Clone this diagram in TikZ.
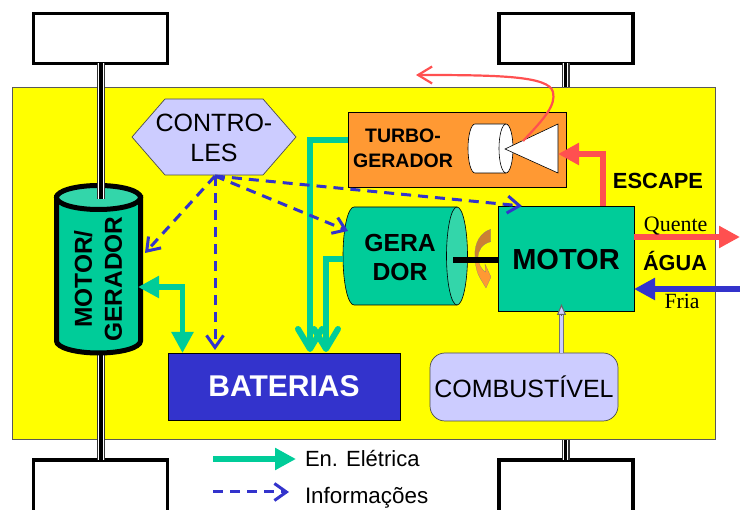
\documentclass[tikz,border=0pt]{standalone}
\usepackage{fontspec}
\setmainfont{Liberation Sans}
\newfontfamily\serifname{Liberation Serif}
\usetikzlibrary{arrows.meta}
\definecolor{amarelo}{HTML}{FFFF00}
\definecolor{verde}{HTML}{00CC99}
\definecolor{verdeclaro}{HTML}{33D6AA}
\definecolor{azul}{HTML}{3333CC}
\definecolor{lilas}{HTML}{CCCCFF}
\definecolor{laranja}{HTML}{FF9933}
\definecolor{laranjaesc}{HTML}{CC8033}
\definecolor{vermelho}{HTML}{FF5050}
\tikzstyle{wheel} = [draw, line width=3.5pt, fill=white, minimum width=134pt, minimum height=50pt]
\tikzstyle{box} = [draw, line width=0.7pt, minimum width=136pt, minimum height=105pt, align=center]
\tikzstyle{eixoA} = [line width=8pt, black!80]
\tikzstyle{eixoB} = [line width=5.8pt, white]
\tikzstyle{eixoC} = [line width=3.2pt, black]
\tikzstyle{energia} = [draw=verde, line width=6pt, -{Straight Barb[length=20pt,width=24pt,round]}, line join=miter]
\tikzstyle{energiafill} = [draw=verde, line width=5.5pt, {Triangle[length=21pt,width=21pt,fill=verde]}-{Triangle[length=21pt,width=21pt,fill=verde]}]
\tikzstyle{info} = [draw=azul, line width=3pt, dash pattern=on 10pt off 7pt, -{Straight Barb[length=12pt,width=17pt]}]
\tikzstyle{quente} = [draw=vermelho, line width=5.5pt, -{Triangle[length=21pt,width=21pt]}]
\tikzstyle{fria} = [draw=azul, line width=6pt, -{Triangle[length=21pt,width=21pt]}]

\begin{document}
\begin{tikzpicture}[
    x=1pt, y=-1pt,
    every node/.style={outer sep=0pt, inner sep=0pt}
]
    \useasboundingbox (0,0) rectangle (740,510);
    \clip (0,0) rectangle (740,510);

    \node[wheel] (rodaA) at (100.5,38.5) {};
    \node[wheel] (rodaB) at (566,38.5) {};
    \node[wheel, minimum height=70pt] (rodaC) at (100.5,495) {};
    \node[wheel, minimum height=70pt] (rodaD) at (566,495) {};
    \coordinate (eixoDir) at (565.5,263);
    \foreach \s in {eixoA, eixoB, eixoC}
        \draw[\s] (rodaB.south -| eixoDir) -- (rodaD.north -| eixoDir);

    \node[draw=black!65, line width=0.7pt, fill=amarelo, minimum width=703pt, minimum height=352pt] (chassi) at (363.5,263) {};

    \coordinate (eixoTopo) at (101,199);
    \coordinate (eixoBase) at (101,350);
    \foreach \s in {eixoA, eixoB, eixoC}
        \draw[\s] (rodaC.north -| eixoBase) -- (eixoBase);

    % motor/gerador
    \draw[line width=5pt, fill=verde] (56.5,197.5) -- (56.5,341) arc[start angle=180, end angle=0, x radius=42, y radius=12] -- (140.5,197.5) -- cycle;
    \draw[line width=5pt, fill=verdeclaro] (98.5,197.5) ellipse[x radius=42, y radius=12];
    \foreach \s in {eixoA, eixoB, eixoC}
        \draw[\s] (rodaA.south -| eixoTopo) -- (eixoTopo);
    \node[rotate=90, align=center, font=\fontsize{24.5}{30}\selectfont\bfseries] (motorgerador) at (98,279) {MOTOR/\\GERADOR};

    \draw[draw=black!70, line width=0.7pt, fill=lilas] (132,137) -- (165,99) -- (263,99) -- (296,137) -- (263,175) -- (165,175) -- cycle;
    \node[align=center, minimum width=164pt, minimum height=76pt, font=\fontsize{25}{30}\selectfont] (controles) at (214,138) {CONTRO-\\LES};

    \node[box, fill=laranja, minimum width=218pt, minimum height=75pt] (turbo) at (457,149.5) {};
    \node[align=center, font=\fontsize{19.5}{25}\selectfont\bfseries] (turbotexto) at (403,148.5) {TURBO-\\GERADOR};
    \draw[line width=0.6pt, fill=white] (475,124) -- (506,124) arc[start angle=-90, end angle=90, x radius=7, y radius=24.5] -- (475,173) arc[start angle=90, end angle=270, x radius=7, y radius=24.5] -- cycle;
    \draw[line width=0.6pt] (506,124) arc[start angle=-90, end angle=-270, x radius=7, y radius=24.5];
    \draw[line width=0.6pt, fill=white] (505,149) -- (558,124) -- (558,173) -- cycle;
    \coordinate (saida) at (416,75);
    \coordinate (turbina) at (523,141);
    \draw[vermelho, line width=2.2pt, -{Straight Barb[length=14pt,width=17pt]}] (turbina) .. controls (545,118) and (556,105) .. (553,92) .. controls (549,76) and (500,75) .. (saida);

    \node[box, fill=verde, text height=23pt, font=\fontsize{29}{32}\selectfont\bfseries] (motor) at (566,258.5) {MOTOR};

    % gerador
    \draw[line width=0.6pt, fill=verde] (354,207) -- (457,207) -- (457,305) -- (354,305) arc[start angle=90, end angle=270, x radius=11, y radius=49] -- cycle;
    \draw[line width=0.6pt, fill=verdeclaro] (457,256) ellipse[x radius=10.5, y radius=49];
    \node[align=center, font=\fontsize{24.7}{29}\selectfont\bfseries] (gerador) at (400,257.5) {GERA\\DOR};

    % seta de rotacao
    \fill[laranjaesc, draw=black!50, line width=0.2pt] (490.7,229.3) .. controls (481,232) and (474,243) .. (475,256) -- (478,258) .. controls (478,250) and (482,244) .. (490.7,241.7) -- cycle;
    \fill[laranja, draw=black!50, line width=0.2pt] (475,256) .. controls (475,265) and (477,273) .. (480,278) -- (486,288) -- (491,277) -- (485,264) -- (485.5,272) .. controls (482,270) and (478,264) .. (478,258) -- cycle;
    \draw[line width=5.5pt] (453,260) -- (motor.west |- 453,260);

    \node[box, fill=azul, text=white, minimum width=232pt, minimum height=67pt, font=\fontsize{30}{32}\selectfont\bfseries] (baterias) at (284,386.5) {BATERIAS};
    \node[box, draw=black!70, fill=lilas, rounded corners=15pt, minimum width=188pt, minimum height=68pt, font=\fontsize{25}{30}\selectfont] (combustivel) at (524,387) {COMBUST\'IVEL};

    \coordinate (fuel) at (561.5,304);
    \draw[black!55, line width=4.5pt, shorten >=9pt] (combustivel.north -| fuel) -- (fuel);
    \draw[lilas, line width=2.6pt, shorten >=9pt] (combustivel.north -| fuel) -- (fuel);
    \draw[black!60, line width=1pt, -{Triangle[length=11pt,width=9pt,fill=lilas]}] (561.5,316) -- (fuel);

    % energia
    \coordinate (linhaT) at (310,140.5);
    \coordinate (linhaG) at (326,259.5);
    \draw[energia] (turbo.west |- linhaT) -| ([yshift=1pt]baterias.north -| linhaT);
    \draw[energia] (343,259.5) -| ([yshift=1pt]baterias.north -| linhaG);
    \coordinate (canto) at (182.5,287);
    \draw[energiafill] (138,287) -| (baterias.north -| canto);

    % informacoes
    \coordinate (ctrl) at (215,176);
    \coordinate (setaA) at (145,253);
    \coordinate (setaB) at (215,350);
    \coordinate (setaC) at (348,231);
    \coordinate (setaD) at (522,206);
    \foreach \to in {setaA, setaB, setaC, setaD}
        \draw[info] (ctrl) -- (\to);

    % escape e agua
    \coordinate (escape) at (603,154);
    \draw[quente] (escape |- motor.north) -- (escape) -- (558,154);
    \draw[quente] (motor.east |- 0,237) -- (740,237);
    \draw[fria] (740,289) -- (motor.east |- 0,289);
    \node[anchor=base, font=\fontsize{21.9}{24}\selectfont\bfseries] (escapetexto) at (658,189) {ESCAPE};
    \node[anchor=base, font=\fontsize{21.7}{24}\selectfont\bfseries] (aguatexto) at (675,271) {ÁGUA};
    \node[anchor=base, font=\serifname\fontsize{22}{24}\selectfont] (quentetexto) at (675.7,232) {Quente};
    \node[anchor=base, font=\serifname\fontsize{21.7}{24}\selectfont] (friatexto) at (682,309) {Fria};

    % legenda
    \node[anchor=base west, font=\fontsize{22}{24}\selectfont] (legendaA) at (305,466.5) {En. Elétrica};
    \node[anchor=base west, font=\fontsize{22.4}{24}\selectfont] (legendaB) at (305,503.5) {Informações};
    \coordinate (legA) at (213,459);
    \coordinate (legB) at (213,492);
    \draw[draw=verde, line width=6pt, -{Triangle[length=21pt,width=21pt]}] (legA) -- (296,459);
    \draw[info] (legB) -- (289,492);
\end{tikzpicture}
\end{document}
